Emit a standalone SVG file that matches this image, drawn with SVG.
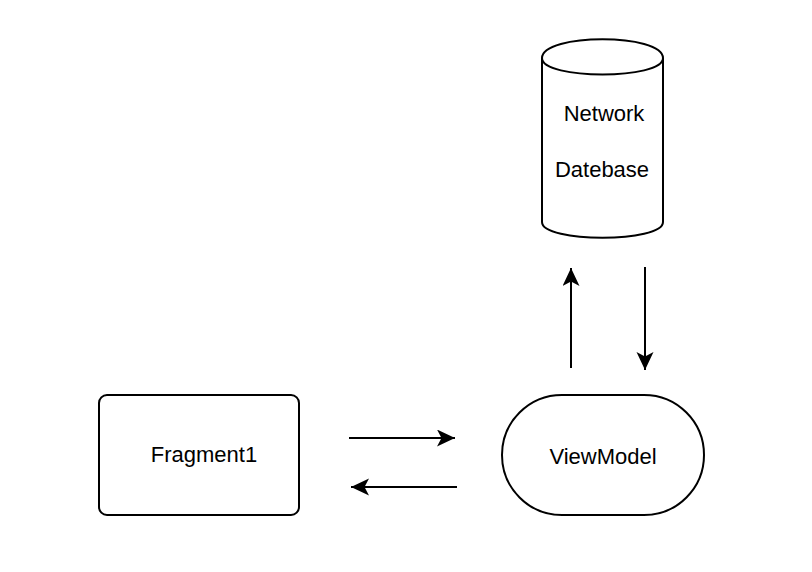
<svg xmlns="http://www.w3.org/2000/svg" width="812" height="572" viewBox="0 0 812 572">
  <defs>
    <style>
      .shape { fill: #ffffff; stroke: #000000; stroke-width: 2; }
      .conn { fill: none; stroke: #000000; stroke-width: 2; }
      .label { font-family: "Liberation Sans", Arial, Helvetica, sans-serif; font-size: 22px; fill: #000000; text-anchor: middle; }
    </style>
    <marker id="arrow" markerUnits="userSpaceOnUse" markerWidth="20" markerHeight="20" refX="18" refY="8.5" orient="auto">
      <path d="M0,0 L18,8.5 L0,17 L4.5,8.5 Z" fill="#000000"/>
    </marker>
  </defs>
  <rect x="0" y="0" width="812" height="572" fill="#ffffff"/>

  <g id="database">
    <path class="shape" d="M542,58 C542,33 663,33 663,58 L663,222 C663,243 542,243 542,222 Z"/>
    <path class="conn" d="M542,58 C542,80 663,80 663,58"/>
    <text class="label" x="604" y="121">Network</text>
    <text class="label" x="602" y="177">Datebase</text>
  </g>

  <g id="fragment1">
    <rect class="shape" x="99" y="395" width="200" height="120" rx="8" ry="8"/>
    <text class="label" x="204" y="462">Fragment1</text>
  </g>

  <g id="viewmodel">
    <rect class="shape" x="502" y="395" width="202" height="120" rx="60" ry="60"/>
    <text class="label" x="603" y="464">ViewModel</text>
  </g>

  <g id="connectors">
    <line class="conn" x1="349" y1="438" x2="455" y2="438" marker-end="url(#arrow)"/>
    <line class="conn" x1="457" y1="487" x2="351" y2="487" marker-end="url(#arrow)"/>
    <line class="conn" x1="571" y1="368" x2="571" y2="268" marker-end="url(#arrow)"/>
    <line class="conn" x1="645" y1="267" x2="645" y2="370" marker-end="url(#arrow)"/>
  </g>
</svg>
